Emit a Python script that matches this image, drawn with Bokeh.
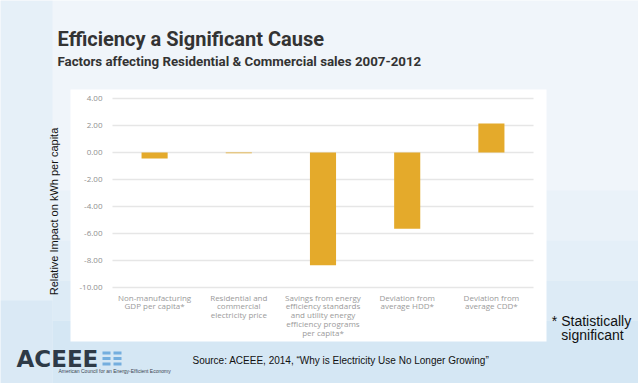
from bokeh.plotting import figure
from bokeh.models import (Range1d, FixedTicker, NumeralTickFormatter,
                          Label, BoxAnnotation)
from bokeh.embed import file_html
from bokeh.resources import INLINE
import math

# ---- data ----
categories = [
    "Non-manufacturing\nGDP per capita*",
    "Residential and\ncommercial\nelectricity price",
    "Savings from energy\nefficiency standards\nand utility energy\nefficiency programs\nper capita*",
    "Deviation from\naverage HDD*",
    "Deviation from\naverage CDD*",
]
impact = [-0.45, -0.05, -8.35, -5.65, 2.15]
y_ticks = [-10, -8, -6, -4, -2, 0, 2, 4]

title_text = "Efficiency a Significant Cause"
subtitle_text = "Factors affecting Residential & Commercial sales 2007-2012"
ylabel_text = "Relative Impact on kWh per capita"
note_lines = ["* Statistically", "significant"]
source_text = "Source: ACEEE, 2014, \u201cWhy is Electricity Use No Longer Growing\u201d"
logo_text = "ACEEE"
logo_tagline = "American Council for an Energy-Efficient Economy"

TITLE_FONT = "Roboto"
SANS = "Liberation Sans"

# ---- layout (page pixels) ----
W, H = 638, 383
CL, CR = 112, 533          # chart area left/right
Y_TOP_PX, Y_BOT_PX = 98, 287   # pixel rows of the 4.00 and -10.00 gridlines
pos = list(range(len(categories)))
ppu_x = (CR - CL) / len(categories)
ppu_y = (Y_BOT_PX - Y_TOP_PX) / (max(y_ticks) - min(y_ticks))
x_left = -0.5 - CL / ppu_x
x_right = x_left + W / ppu_x
y_top = max(y_ticks) + Y_TOP_PX / ppu_y
y_bot = y_top - H / ppu_y

p = figure(width=W, height=H, x_range=Range1d(x_left, x_right),
           y_range=Range1d(y_bot, y_top), output_backend="svg",
           toolbar_location=None, min_border=0,
           min_border_left=0, min_border_right=0,
           min_border_top=0, min_border_bottom=0)
p.background_fill_color = "#f0f5fa"
p.border_fill_color = "#f0f5fa"
p.outline_line_color = None


def xd(sx):
    return x_left + sx / ppu_x


def yd(sy):
    return y_top - sy / ppu_y


def box(x0, y0, x1, y1, color, level="image"):
    p.add_layout(BoxAnnotation(left=xd(x0), right=xd(x1), top=yd(y0), bottom=yd(y1),
                               fill_color=color, fill_alpha=1.0, line_color=None,
                               level=level))


def label(x, y, text, size, color, font=SANS, style="normal", align="left",
          baseline="middle", angle=0.0):
    p.add_layout(Label(x=xd(x), y=yd(y), text=text, text_font_size=f"{size}px",
                       text_color=color, text_font=font, text_font_style=style,
                       text_align=align, text_baseline=baseline, angle=angle))


# slide background
bands = [
    (0, 0, 52, 383, "#e6f0f8"),
    (52, 190, 638, 240, "#eaf2f9"),
    (52, 240, 638, 280, "#e4eff8"),
    (52, 280, 638, 320, "#ddebf6"),
    (52, 320, 638, 383, "#d5e7f4"),
    (0, 300, 52, 383, "#dae9f5"),
]
for b in bands:
    box(*b)
# white chart panel
box(70, 89, 546, 341, "white")

# gridlines within the chart area
p.segment(x0=-0.5, x1=len(categories) - 0.5, y0=y_ticks, y1=y_ticks,
          line_color="#e6e6e6", line_width=1.5)

# bars
p.vbar(x=pos, top=impact, bottom=0, width=0.31,
       fill_color="#E4AA2B", line_color=None)

# axes placed at fixed locations inside the full-canvas frame
p.xgrid.visible = False
p.ygrid.visible = False

ya = p.yaxis[0]
ya.fixed_location = -0.5
ya.ticker = FixedTicker(ticks=y_ticks)
ya.formatter = NumeralTickFormatter(format="0.00")
ya.axis_line_color = None
ya.major_tick_line_color = None
ya.minor_tick_line_color = None
ya.major_tick_out = 0
ya.major_tick_in = 0
ya.major_label_standoff = 10
ya.major_label_text_font = "Open Sans"
ya.major_label_text_font_size = "8px"
ya.major_label_text_color = "#8f8f8f"

xa = p.xaxis[0]
xa.fixed_location = min(y_ticks)
xa.ticker = FixedTicker(ticks=pos)
xa.major_label_overrides = {i: c for i, c in zip(pos, categories)}
xa.axis_line_color = None
xa.major_tick_line_color = None
xa.minor_tick_line_color = None
xa.major_tick_out = 0
xa.major_tick_in = 0
xa.major_label_standoff = 4
xa.major_label_text_font = "Open Sans"
xa.major_label_text_font_size = "8px"
xa.major_label_text_color = "#9a9a9a"
xa.major_label_text_line_height = 0.8

# texts
label(57, 38.5, title_text, 20, "#333333", font=TITLE_FONT, style="bold")
label(57, 60.5, subtitle_text, 13.3, "#333333", font=TITLE_FONT, style="bold")
label(53, 211, ylabel_text, 11, "#111111", align="center", angle=math.pi / 2)
label(591, 320, note_lines[0], 14, "#111111", align="center")
label(592, 334.5, note_lines[1], 14, "#111111", align="center")
label(192, 360, source_text, 10, "#111111")

# logo
label(16, 358, logo_text, 23, "#2e3a47", font="DejaVu Sans", style="bold")
label(58, 370.5, logo_tagline, 5, "#3a4450")
for (x0, x1) in [(102, 110), (113, 121)]:
    for (y0, y1) in [(351, 354), (356.5, 359.5), (362, 365)]:
        box(x0, y0, x1, y1, "#74aede", level="annotation")

open("out.html", "w").write(file_html(p, INLINE))
